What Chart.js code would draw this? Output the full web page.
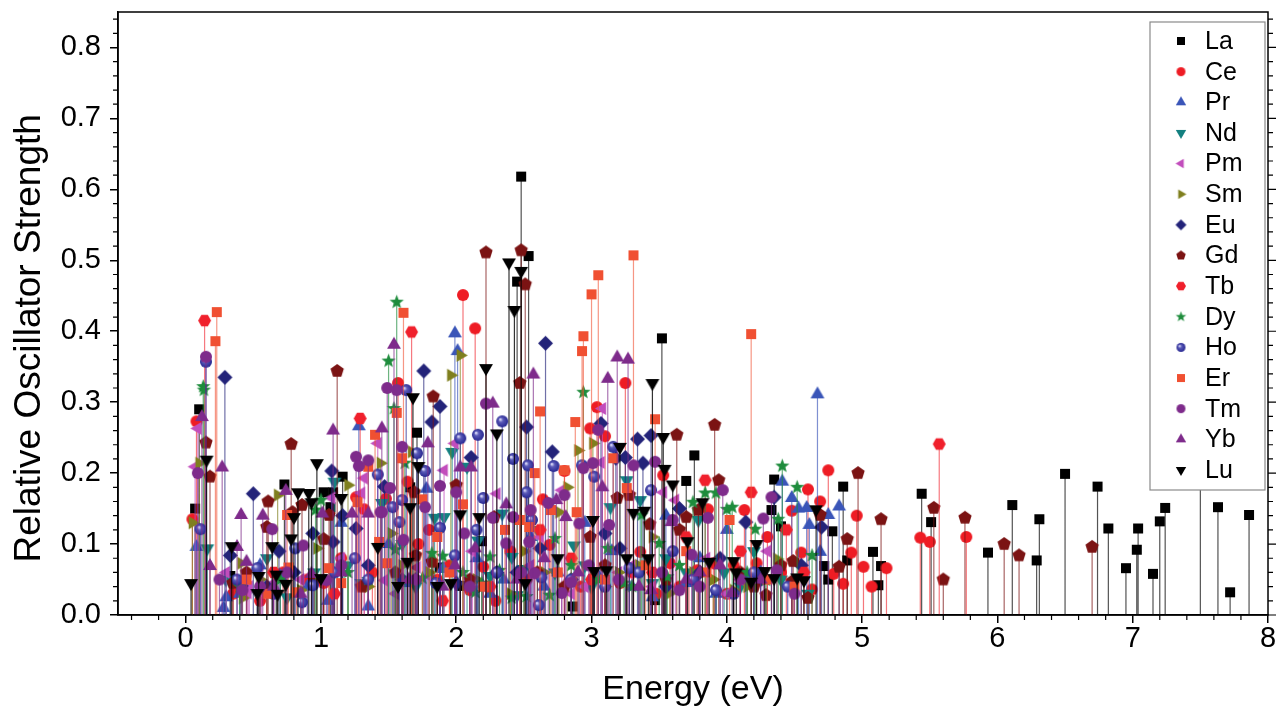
<!DOCTYPE html>
<html lang="en">
<head>
<meta charset="UTF-8">
<title>Relative Oscillator Strength</title>
<script src="https://cdn.jsdelivr.net/npm/chart.js"></script>
<style>
  html, body { margin: 0; padding: 0; background: #fff; }
  #wrap { width: 1277px; height: 710px; }
</style>
</head>
<body>
<div id="wrap"><canvas id="stemChart"></canvas></div>
<script>
// energies (eV) and relative oscillator strengths
const laE = [0.07,0.10,0.33,0.73,1.02,1.07,1.09,1.16,1.66,1.71,1.88,2.03,2.19,2.45,2.48,2.535,2.86,3.47,3.52,3.70,3.76,4.33,4.35,4.40,4.72,4.75,4.78,4.86,4.89,5.08,5.12,5.14,5.44,5.51,5.93,6.11,6.29,6.31,6.50,6.74,6.82,6.95,7.03,7.04,7.15,7.20,7.24,7.50,7.63,7.72,7.86];
const laV = [0.150,0.290,0.055,0.184,0.173,0.152,0.173,0.195,0.180,0.257,0.067,0.041,0.104,0.470,0.618,0.506,0.012,0.021,0.390,0.189,0.225,0.148,0.191,0.125,0.069,0.050,0.118,0.181,0.077,0.089,0.042,0.069,0.171,0.131,0.088,0.155,0.077,0.135,0.199,0.181,0.122,0.066,0.092,0.122,0.058,0.132,0.151,0.260,0.152,0.032,0.141];

const ceE = [0.05,0.08,0.55,0.90,1.15,1.26,1.32,1.38,1.48,1.57,1.64,1.72,1.80,1.95,2.05,2.14,2.20,2.29,2.40,2.64,2.69,2.80,2.99,3.04,3.10,3.21,3.25,3.36,3.53,3.58,3.65,3.78,3.86,3.90,4.05,4.13,4.22,4.30,4.48,4.55,4.60,4.63,4.69,4.75,4.79,4.86,4.92,4.96,5.01,5.07,5.18,5.43,5.50,5.77,
             0.35,0.72,1.02,1.86,2.10,2.52,2.92,3.30,3.48,3.72,4.00,4.40];
const ceV = [0.135,0.273,0.020,0.050,0.080,0.166,0.149,0.060,0.164,0.327,0.188,0.100,0.120,0.070,0.451,0.404,0.068,0.020,0.090,0.163,0.099,0.203,0.263,0.293,0.252,0.045,0.327,0.089,0.197,0.073,0.040,0.063,0.149,0.073,0.070,0.148,0.073,0.110,0.147,0.088,0.177,0.036,0.160,0.204,0.058,0.044,0.088,0.140,0.068,0.040,0.066,0.109,0.103,0.110,
             0.030,0.060,0.045,0.050,0.035,0.050,0.040,0.060,0.030,0.050,0.030,0.060];

const prE = [0.08,0.28,0.30,0.55,0.90,1.15,1.28,1.35,1.50,1.70,1.78,1.99,2.01,2.15,2.35,2.55,2.75,2.95,3.15,3.30,3.55,3.80,4.00,4.25,4.41,4.48,4.53,4.59,4.61,4.67,4.69,4.75,4.83,
             0.40,0.70,1.05,1.62,1.90,2.25,2.65,3.05,3.45,3.70,3.92,4.15];
const prV = [0.096,0.010,0.025,0.070,0.040,0.130,0.266,0.012,0.100,0.050,0.178,0.397,0.372,0.080,0.050,0.110,0.060,0.130,0.090,0.040,0.140,0.080,0.120,0.060,0.188,0.165,0.150,0.151,0.127,0.311,0.089,0.141,0.153,
             0.030,0.055,0.020,0.045,0.065,0.030,0.040,0.055,0.025,0.045,0.030,0.050];

const ndE = [0.16,0.45,0.60,0.95,1.10,1.30,1.45,1.60,1.84,1.91,1.97,2.08,2.16,2.34,2.41,2.45,2.60,2.73,2.87,3.00,3.14,3.26,3.36,3.55,3.79,3.98,4.20,4.40,4.60,
             0.30,0.75,1.20,1.70,2.25,2.50,2.95,3.45,3.70,4.10];
const ndV = [0.094,0.030,0.080,0.060,0.188,0.045,0.158,0.100,0.137,0.138,0.230,0.209,0.105,0.143,0.082,0.028,0.120,0.060,0.098,0.040,0.152,0.190,0.162,0.080,0.134,0.060,0.090,0.050,0.030,
             0.050,0.025,0.070,0.040,0.055,0.065,0.070,0.045,0.060,0.040];

const pmE = [0.07,0.09,0.46,0.47,0.56,0.85,1.08,1.30,1.32,1.42,1.47,1.71,1.91,1.99,2.12,2.30,2.45,2.62,2.78,2.95,3.07,3.08,3.30,3.53,3.62,3.85,4.10,4.30,
             0.30,0.65,1.15,1.55,1.80,2.20,2.55,2.85,3.20,3.45,3.75,4.00];
const pmV = [0.209,0.263,0.031,0.040,0.032,0.050,0.165,0.172,0.193,0.242,0.049,0.067,0.204,0.242,0.090,0.171,0.060,0.110,0.176,0.040,0.215,0.291,0.070,0.173,0.162,0.080,0.050,0.090,
             0.060,0.045,0.080,0.030,0.055,0.040,0.070,0.030,0.060,0.040,0.055,0.030];

const smE = [0.05,0.10,0.41,0.42,0.68,0.97,1.20,1.44,1.52,1.67,1.80,1.96,2.03,2.25,2.50,2.76,2.82,2.90,3.01,3.20,3.45,3.58,3.90,4.15,4.37,
             0.55,0.85,1.10,1.35,1.60,2.15,2.40,2.65,3.10,3.35,3.75,4.05];
const smV = [0.130,0.214,0.073,0.024,0.169,0.094,0.183,0.214,0.115,0.230,0.060,0.338,0.366,0.040,0.090,0.145,0.180,0.232,0.242,0.060,0.110,0.031,0.050,0.040,0.079,
             0.050,0.035,0.060,0.040,0.070,0.050,0.030,0.060,0.040,0.070,0.060,0.035];

const euE = [0.29,0.33,0.41,0.50,0.69,0.94,1.08,1.09,1.16,1.26,1.47,1.76,1.82,1.88,2.11,2.30,2.52,2.62,2.66,2.71,3.07,3.10,3.18,3.21,3.25,3.34,3.38,3.44,3.65,3.95,4.14,4.35,4.55,4.70,
             0.60,0.80,1.35,1.60,2.00,2.45,2.85,3.55,3.80,4.25];
const euV = [0.335,0.084,0.041,0.171,0.090,0.115,0.203,0.103,0.140,0.122,0.181,0.344,0.272,0.294,0.222,0.060,0.265,0.094,0.383,0.230,0.270,0.115,0.221,0.094,0.222,0.248,0.214,0.253,0.150,0.080,0.131,0.166,0.070,0.124,
             0.040,0.060,0.070,0.050,0.045,0.060,0.050,0.040,0.060,0.050];

const gdE = [0.15,0.18,0.35,0.60,0.61,0.78,0.79,0.86,1.02,1.06,1.12,1.69,1.70,1.82,1.83,2.00,2.22,2.28,2.47,2.48,2.51,2.99,3.19,3.28,3.43,3.63,3.65,3.70,3.79,3.91,3.94,4.29,4.48,4.49,4.60,4.69,4.83,4.89,4.97,5.14,5.53,5.60,5.76,6.05,6.16,6.70,
             0.45,0.95,1.30,1.55,2.10,2.60,2.80,3.10,3.55,4.10,4.20,4.40];
const gdV = [0.243,0.195,0.045,0.124,0.160,0.241,0.145,0.155,0.107,0.141,0.344,0.173,0.084,0.075,0.308,0.183,0.511,0.138,0.327,0.514,0.466,0.110,0.165,0.169,0.128,0.254,0.120,0.138,0.148,0.268,0.190,0.028,0.047,0.076,0.024,0.141,0.068,0.107,0.200,0.135,0.151,0.050,0.137,0.100,0.084,0.096,
             0.060,0.050,0.040,0.060,0.050,0.060,0.040,0.070,0.050,0.060,0.040,0.070];

const tbE = [0.14,0.65,1.10,1.29,1.67,1.90,2.25,2.62,2.85,3.00,3.45,3.70,3.84,4.10,4.18,4.44,4.57,5.57];
const tbV = [0.415,0.060,0.030,0.277,0.399,0.020,0.040,0.120,0.080,0.050,0.060,0.110,0.190,0.090,0.173,0.120,0.060,0.241];

const dyE = [0.13,0.135,0.96,1.00,1.50,1.54,1.55,1.56,1.62,1.75,1.82,1.90,2.14,2.19,2.25,2.32,2.41,2.52,2.69,2.73,2.94,3.12,3.24,3.37,3.50,3.56,3.75,3.84,3.92,4.00,4.04,4.21,4.29,4.38,4.41,4.52,4.63,
             0.40,0.70,1.20,1.35,2.05,2.85,3.05,3.30,3.65,4.15];
const dyV = [0.322,0.317,0.148,0.162,0.358,0.291,0.092,0.441,0.214,0.052,0.087,0.083,0.032,0.045,0.082,0.063,0.024,0.026,0.028,0.108,0.314,0.094,0.045,0.141,0.101,0.054,0.159,0.172,0.172,0.149,0.152,0.121,0.049,0.135,0.210,0.180,0.084,
             0.040,0.050,0.060,0.050,0.060,0.070,0.050,0.040,0.070,0.060];

const hoE = [0.11,0.15,0.53,0.81,0.86,0.94,1.25,1.42,1.53,1.58,1.60,1.63,1.71,1.77,1.88,1.99,2.03,2.15,2.16,2.20,2.34,2.42,2.52,2.53,2.56,2.61,2.63,2.72,2.93,3.02,3.16,3.28,3.44,3.60,3.92,4.20,4.45,
             0.38,0.65,1.10,1.35,1.85,2.30,2.85,3.10,3.35,3.75,4.05];
const hoV = [0.121,0.357,0.066,0.094,0.018,0.042,0.080,0.198,0.152,0.131,0.162,0.317,0.228,0.203,0.123,0.084,0.249,0.120,0.254,0.165,0.273,0.220,0.173,0.211,0.134,0.014,0.053,0.210,0.211,0.195,0.237,0.066,0.176,0.090,0.035,0.060,0.040,
             0.050,0.030,0.060,0.050,0.045,0.060,0.050,0.040,0.060,0.050,0.030];

const erE = [0.22,0.23,0.75,0.76,0.82,1.06,1.27,1.35,1.40,1.43,1.49,1.56,1.60,1.61,1.75,1.86,2.05,2.36,2.47,2.54,2.58,2.62,2.70,2.80,2.88,2.89,2.93,2.94,3.00,3.05,3.16,3.26,3.31,3.47,3.70,4.02,4.18,
             0.45,0.60,1.15,1.95,2.20,2.75,3.10,3.40,3.85,4.30,4.50];
const erV = [0.386,0.427,0.141,0.067,0.032,0.066,0.159,0.209,0.254,0.103,0.073,0.285,0.221,0.426,0.163,0.110,0.156,0.120,0.134,0.124,0.200,0.287,0.148,0.204,0.272,0.145,0.372,0.393,0.452,0.479,0.221,0.179,0.507,0.276,0.090,0.134,0.396,
             0.050,0.030,0.045,0.060,0.040,0.060,0.050,0.070,0.060,0.050,0.040];

const tmE = [0.09,0.15,0.42,0.64,0.87,1.04,1.26,1.28,1.35,1.44,1.45,1.49,1.51,1.56,1.60,1.61,1.77,1.88,2.00,2.06,2.22,2.27,2.37,2.42,2.54,2.55,2.58,2.68,2.78,2.80,2.85,2.91,2.94,3.01,3.05,3.13,3.31,3.47,3.60,3.65,3.74,3.86,3.97,4.27,4.33,4.37,
             0.25,0.55,0.75,1.15,1.70,2.10,2.48,2.98,3.20,3.52,3.80,4.10,4.50];
const tmV = [0.200,0.364,0.035,0.121,0.098,0.049,0.223,0.210,0.218,0.145,0.145,0.320,0.179,0.317,0.237,0.106,0.152,0.182,0.173,0.115,0.298,0.137,0.101,0.138,0.103,0.148,0.059,0.158,0.031,0.169,0.046,0.129,0.207,0.214,0.261,0.127,0.211,0.216,0.134,0.035,0.085,0.137,0.176,0.136,0.166,0.063,
             0.050,0.040,0.060,0.070,0.050,0.040,0.060,0.070,0.050,0.060,0.040,0.050,0.030];

const ybE = [0.12,0.18,0.27,0.38,0.41,0.45,0.57,0.74,0.93,1.01,1.09,1.23,1.35,1.45,1.54,1.79,1.99,2.03,2.11,2.14,2.27,2.37,2.57,2.65,2.74,2.81,3.08,3.12,3.19,3.27,3.44,3.59,3.80,4.04,4.25,
             0.65,0.85,1.15,1.65,1.90,2.45,2.90,3.35,3.70,3.95];
const ybV = [0.279,0.069,0.208,0.096,0.141,0.075,0.140,0.175,0.058,0.143,0.260,0.143,0.143,0.263,0.381,0.242,0.070,0.208,0.208,0.094,0.298,0.156,0.339,0.080,0.162,0.138,0.180,0.333,0.363,0.360,0.035,0.131,0.060,0.031,0.050,
             0.040,0.030,0.060,0.050,0.040,0.050,0.060,0.040,0.050,0.070];

const luE = [0.04,0.155,0.34,0.53,0.54,0.64,0.67,0.68,0.74,0.78,0.80,0.83,0.91,0.93,0.97,1.00,1.15,1.42,1.57,1.64,1.66,1.68,1.72,1.86,1.96,2.03,2.17,2.22,2.30,2.39,2.43,2.48,2.51,2.75,3.01,3.02,3.11,3.21,3.26,3.31,3.39,3.42,3.45,3.53,3.54,3.60,3.71,3.82,3.87,4.05,4.07,4.18,4.22,4.28,4.35,4.52,4.57,4.66];
const luV = [0.045,0.219,0.097,0.031,0.055,0.097,0.057,0.030,0.044,0.108,0.138,0.173,0.172,0.159,0.214,0.052,0.165,0.096,0.041,0.075,0.152,0.307,0.210,0.041,0.045,0.142,0.138,0.348,0.256,0.497,0.430,0.485,0.045,0.080,0.134,0.062,0.063,0.237,0.080,0.144,0.147,0.080,0.327,0.251,0.206,0.184,0.104,0.159,0.075,0.076,0.060,0.047,0.100,0.062,0.052,0.053,0.049,0.149];

const xTicks = [0, 1, 2, 3, 4, 5, 6, 7, 8];
const yTicks = [0, 0.1, 0.2, 0.3, 0.4, 0.5, 0.6, 0.7, 0.8];
const yTitle = 'Relative Oscillator Strength';

// marker glyphs (drawn once into small canvases, used as pointStyle)
function marker(shape, color, r) {
    const s = Math.ceil(2 * r + 2);
    const c = document.createElement('canvas');
    c.width = s; c.height = s;
    const g = c.getContext('2d');
    const h = s / 2;
    g.fillStyle = color;
    g.beginPath();
    const poly = (n, start, rad) => {
        for (let k = 0; k < n; k++) {
            const a = start + k * 2 * Math.PI / n;
            const px = h + rad * Math.cos(a), py = h + rad * Math.sin(a);
            k ? g.lineTo(px, py) : g.moveTo(px, py);
        }
        g.closePath();
    };
    const deg = Math.PI / 180;
    if (shape === 'square') g.rect(h - r, h - r, 2 * r, 2 * r);
    else if (shape === 'circle') g.arc(h, h, r, 0, 2 * Math.PI);
    else if (shape === 'up') poly(3, -90 * deg, r);
    else if (shape === 'down') poly(3, 90 * deg, r);
    else if (shape === 'left') poly(3, 180 * deg, r);
    else if (shape === 'right') poly(3, 0, r);
    else if (shape === 'diamond') poly(4, -90 * deg, r);
    else if (shape === 'pentagon') poly(5, -90 * deg, r);
    else if (shape === 'hexagon') poly(6, 0, r);
    else if (shape === 'star') {
        for (let k = 0; k < 10; k++) {
            const a = -90 * deg + k * 36 * deg;
            const rr = k % 2 ? r * 0.42 : r;
            const px = h + rr * Math.cos(a), py = h + rr * Math.sin(a);
            k ? g.lineTo(px, py) : g.moveTo(px, py);
        }
        g.closePath();
    } else if (shape === 'ball') {
        const grad = g.createRadialGradient(h - r * 0.35, h - r * 0.35, r * 0.05, h, h, r);
        grad.addColorStop(0, '#e8e8ff');
        grad.addColorStop(0.35, '#5a5ab8');
        grad.addColorStop(1, color);
        g.fillStyle = grad;
        g.arc(h, h, r, 0, 2 * Math.PI);
    }
    g.fill();
    return c;
}

const labels = ['La','Ce','Pr','Nd','Pm','Sm','Eu','Gd','Tb','Dy','Ho','Er','Tm','Yb','Lu'];
const energies = [laE, ceE, prE, ndE, pmE, smE, euE, gdE, tbE, dyE, hoE, erE, tmE, ybE, luE];
const strengths = [laV, ceV, prV, ndV, pmV, smV, euV, gdV, tbV, dyV, hoV, erV, tmV, ybV, luV];
const shapes = ['square','circle','up','down','left','right','diamond','pentagon','hexagon','star','ball','square','circle','up','down'];
const colors = ['#000000','#ee1c24','#3a55b8','#138080','#c24dbc','#7f7f1e','#232379','#7b1313','#f0202c','#1e8c3c','#262690','#f05032','#7e2b8b','#7e2b8b','#000000'];
const stemColors = ['rgba(40,40,40,0.8)','rgba(238,28,36,0.6)','rgba(58,85,184,0.65)','rgba(19,128,128,0.65)','rgba(194,77,188,0.65)','rgba(127,127,30,0.65)','rgba(35,35,121,0.65)','rgba(123,19,19,0.65)','rgba(240,32,44,0.6)','rgba(30,140,60,0.65)','rgba(38,38,144,0.65)','rgba(240,80,50,0.6)','rgba(126,43,139,0.65)','rgba(126,43,139,0.65)','rgba(0,0,0,0.8)'];
const plotSize = { square: 5, circle: 6, up: 8, down: 8, left: 7.5, right: 7.5, diamond: 7.5, pentagon: 7, hexagon: 6.5, star: 7.5, ball: 6 };
const legendSize = { square: 4, circle: 4.5, up: 6, down: 6, left: 5.5, right: 5.5, diamond: 5.5, pentagon: 5, hexagon: 5, star: 5.5, ball: 4.5 };

const plotMarkers = shapes.map((s, i) => marker(s, colors[i], plotSize[s]));
const legendMarkers = shapes.map((s, i) => marker(s, colors[i], legendSize[s]));

const datasets = labels.map((lab, i) => ({
    label: lab,
    data: energies[i].map((e, k) => ({ x: e, y: strengths[i][k] })),
    pointStyle: plotMarkers[i],
    showLine: false,
    order: labels.length - i
}));

// vertical drop lines from each point to zero, drawn just before that series' markers
const stems = {
    id: 'stems',
    beforeDatasetDraw(chart, args) {
        const ctx = chart.ctx;
        const y0 = chart.scales.y.getPixelForValue(0);
        const a = chart.chartArea;
        ctx.save();
        ctx.beginPath();
        ctx.rect(a.left, a.top, a.right - a.left, a.bottom - a.top);
        ctx.clip();
        ctx.strokeStyle = stemColors[args.index];
        ctx.lineWidth = 1.2;
        ctx.beginPath();
        args.meta.data.forEach(pt => {
            ctx.moveTo(pt.x, y0);
            ctx.lineTo(pt.x, pt.y);
        });
        ctx.stroke();
        ctx.restore();
    }
};

const fam = '"Liberation Sans", Arial, sans-serif';

// frame, minor ticks, right-hand ticks, y title and the boxed legend
const frame = {
    id: 'frame',
    afterDraw(chart) {
        const ctx = chart.ctx;
        const a = chart.chartArea;
        const xs = chart.scales.x, ys = chart.scales.y;
        ctx.save();
        ctx.strokeStyle = '#000';
        ctx.lineWidth = 1.5;
        ctx.strokeRect(a.left, a.top, a.right - a.left, a.bottom - a.top);
        ctx.lineWidth = 1.2;
        ctx.beginPath();
        for (let k = -2; k <= 40; k++) {
            if (k % 5 === 0) continue;
            const px = xs.getPixelForValue(k * 0.2);
            ctx.moveTo(px, a.bottom);
            ctx.lineTo(px, a.bottom + 5);
        }
        for (let k = 0; k <= 42; k++) {
            const py = ys.getPixelForValue(k * 0.02);
            const len = k % 5 === 0 ? 8 : 5;
            if (k % 5 !== 0) {
                ctx.moveTo(a.left - 5, py);
                ctx.lineTo(a.left, py);
            }
            ctx.moveTo(a.right, py);
            ctx.lineTo(a.right + len, py);
        }
        ctx.stroke();

        // y axis title
        ctx.save();
        ctx.translate(30, ys.getPixelForValue(0.39));
        ctx.rotate(-Math.PI / 2);
        ctx.font = '37px ' + fam;
        ctx.fillStyle = '#000';
        ctx.textAlign = 'center';
        ctx.textBaseline = 'middle';
        ctx.fillText(yTitle, 0, 0);
        ctx.restore();

        // legend
        const bx = a.right - 118, by = a.top + 10, bw = 115, bh = 468;
        ctx.fillStyle = '#fff';
        ctx.fillRect(bx, by, bw, bh);
        ctx.strokeStyle = '#8a8a8a';
        ctx.lineWidth = 1.2;
        ctx.strokeRect(bx, by, bw, bh);
        ctx.font = '25px ' + fam;
        ctx.fillStyle = '#000';
        ctx.textBaseline = 'middle';
        ctx.textAlign = 'left';
        labels.forEach((lab, i) => {
            const yy = by + 19 + i * 30.64;
            const m = legendMarkers[i];
            ctx.drawImage(m, bx + 31 - m.width / 2, yy - m.height / 2);
            ctx.fillText(lab, bx + 55, yy + 1);
        });
        ctx.restore();
    }
};

new Chart(document.getElementById('stemChart'), {
    type: 'scatter',
    data: { datasets: datasets },
    options: {
        responsive: true,
        maintainAspectRatio: false,
        animation: false,
        events: [],
        layout: { padding: { top: 12, right: 9, left: 0, bottom: 0 } },
        plugins: { legend: { display: false }, tooltip: { enabled: false } },
        scales: {
            x: {
                type: 'linear',
                min: -0.5,
                max: 8,
                afterBuildTicks: s => { s.ticks = xTicks.map(v => ({ value: v })); },
                afterFit: s => { s.height = 95; s.paddingLeft = 0; s.paddingRight = 0; },
                ticks: { font: { family: fam, size: 29 }, color: '#000', padding: -1, maxRotation: 0, autoSkip: false },
                grid: { drawOnChartArea: false, drawTicks: true, tickLength: 8, color: '#000', lineWidth: 1.5 },
                border: { display: true, color: '#000', width: 1.5 },
                title: { display: true, text: 'Energy (eV)', font: { family: fam, size: 34 }, color: '#000', padding: { top: 0, bottom: 0 } }
            },
            y: {
                type: 'linear',
                min: 0,
                max: 0.85,
                afterBuildTicks: s => { s.ticks = yTicks.map(v => ({ value: v })); },
                afterFit: s => { s.width = 118; s.paddingTop = 0; s.paddingBottom = 0; },
                ticks: { font: { family: fam, size: 29 }, color: '#000', padding: 9, callback: v => Number(v).toFixed(1) },
                grid: { drawOnChartArea: false, drawTicks: true, tickLength: 8, color: '#000', lineWidth: 1.5 },
                border: { display: true, color: '#000', width: 1.5 },
                title: { display: false }
            }
        }
    },
    plugins: [stems, frame]
});
</script>
</body>
</html>
